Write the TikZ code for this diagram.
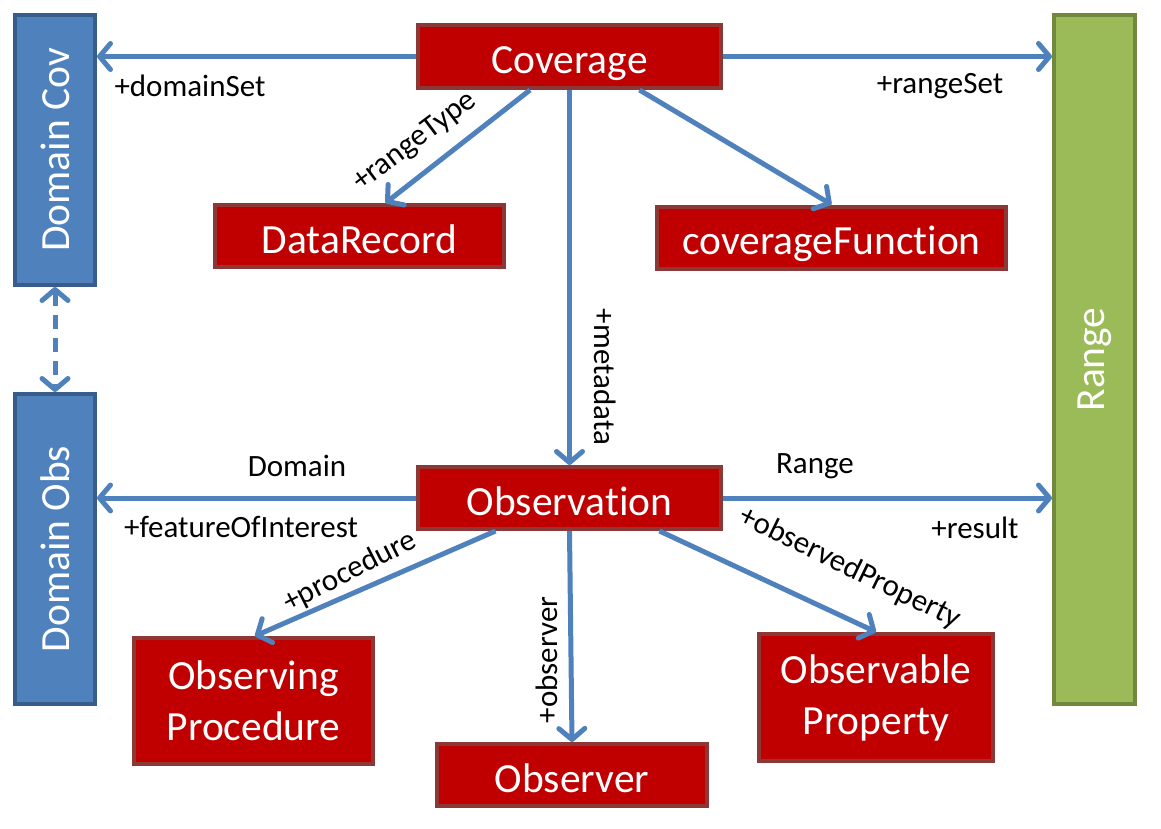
\documentclass[tikz,border=0pt]{standalone}
\usepackage{fontspec}
\setmainfont[Ligatures={NoCommon,NoRequired,NoContextual}]{Carlito}
\usetikzlibrary{arrows.meta}
\definecolor{boxred}{HTML}{C00000}
\definecolor{boxredline}{HTML}{8C3836}
\definecolor{blueF}{HTML}{4F81BD}
\definecolor{blueL}{HTML}{385D8A}
\definecolor{greenF}{HTML}{9BBB59}
\definecolor{greenL}{HTML}{71893F}
\definecolor{conn}{HTML}{4F81BD}
\begin{document}
\begin{tikzpicture}[x=1pt,y=-1pt,
  redbox/.style={draw=boxredline, fill=boxred, line width=4pt, text=white,
    font=\fontsize{41.5}{51}\selectfont, inner sep=0pt, align=center},
  oneline/.style={text height=34pt, text depth=0pt},
  bluebox/.style={draw=blueL, fill=blueF, line width=4pt, text=white,
    font=\fontsize{41.5}{52}\selectfont, inner sep=0pt, rotate=90},
  greenbox/.style={draw=greenL, fill=greenF, line width=4pt, text=white,
    font=\fontsize{41.5}{52}\selectfont, inner sep=0pt, rotate=90},
  conn/.style={draw=conn, line width=5pt,
    -{Straight Barb[length=11pt,width=26pt,round]}},
  dconn/.style={draw=conn, line width=5pt, dash pattern=on 14pt off 9pt,
    {Straight Barb[length=11pt,width=26pt,round]}-{Straight Barb[length=11pt,width=26pt,round]}},
  lab/.style={font=\fontsize{31}{37}\selectfont, inner sep=0pt, text=black}
]
\useasboundingbox[fill=white] (0,0) rectangle (1161,829);

% side boxes
\node[bluebox, minimum width=270pt, minimum height=80pt] (dcov) at (55,150) {Domain Cov};
\node[bluebox, minimum width=310pt, minimum height=80pt] (dobs) at (55,549) {Domain Obs};
\node[greenbox, minimum width=689pt, minimum height=81pt] (range) at (1094.5,359.5) {Range};

% red boxes
\node[redbox, oneline, minimum width=303pt, minimum height=63pt] (cov) at (569.5,56.5) {Coverage};
\node[redbox, oneline, minimum width=289pt, minimum height=62pt] (drec) at (359.5,236) {DataRecord};
\node[redbox, oneline, minimum width=349pt, minimum height=62pt] (cfun) at (831.5,237.5) {coverageFunction};
\node[redbox, oneline, minimum width=303pt, minimum height=62pt] (obs) at (569.5,498) {Observation};
\node[redbox, minimum width=239pt, minimum height=126pt] (oproc) at (253.5,701) {Observing\\Procedure};
\node[redbox, oneline, minimum width=270pt, minimum height=62pt] (obsr) at (572,775) {Observer};
\node[redbox, minimum width=234pt, minimum height=127pt] (oprop) at (876,697.5) {Observable\\Property};

% connectors
\draw[conn] (cov.west) -- (dcov.south |- cov.west);
\draw[conn] (cov.east) -- (range.north |- cov.east);
\draw[conn] ([xshift=-39.5pt]cov.south) -- ([xshift=26pt]drec.north);
\draw[conn] ([xshift=70pt]cov.south) -- (cfun.north);
\draw[conn] (cov.south) -- (obs.north);
\draw[conn] (obs.west) -- (dobs.south |- obs.west);
\draw[conn] (obs.east) -- (range.north |- obs.east);
\draw[conn] ([xshift=-74pt]obs.south) -- ([xshift=1.5pt]oproc.north);
\draw[conn] (obs.south) -- (obsr.north);
\draw[conn] ([xshift=90pt]obs.south) -- (oprop.north);
\draw[dconn] (dcov.west) -- (dobs.east);

% labels
\node[lab] (l1) at (190,86) {+domainSet};
\node[lab] (l2) at (940,86) {+rangeSet};
\node[lab, rotate=37] (l3) at (415,142) {+rangeType};
\node[lab, rotate=-90] (l4) at (605,377) {+metadata};
\node[lab] (l5) at (297,466) {Domain};
\node[lab] (l6) at (241,527) {+featureOfInterest};
\node[lab] (l7) at (815,466) {Range};
\node[lab] (l8) at (975,528) {+result};
\node[lab, rotate=27] (l9) at (350,572) {+procedure};
\node[lab, rotate=90] (l10) at (547,660) {+observer};
\node[lab, rotate=-26] (l11) at (850,568) {+observedProperty};
\end{tikzpicture}
\end{document}
